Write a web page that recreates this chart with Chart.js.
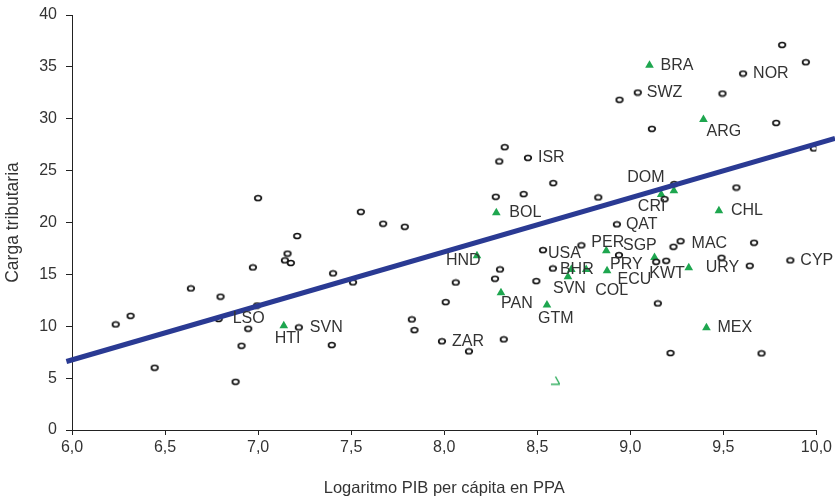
<!DOCTYPE html>
<html>
<head>
<meta charset="utf-8">
<script src="https://cdn.jsdelivr.net/npm/chart.js@4/dist/chart.umd.min.js"></script>
<style>
  html, body { margin: 0; padding: 0; background: #fff; }
  #wrap { width: 835px; height: 499px; position: relative; }
</style>
</head>
<body>
<div id="wrap"><canvas id="taxChart"></canvas></div>
<script>
// Tax burden vs log GDP per capita (PPP). Circles = rest of world,
// green triangles = Latin America, thick blue line = fitted trend.

const otherX = [6.235, 6.315, 6.444, 6.639, 6.788, 6.798, 6.879, 6.911, 6.947, 6.972, 6.995, 7.0,
  7.144, 7.158, 7.176, 7.21, 7.219, 7.396, 7.403, 7.51, 7.552, 7.672, 7.788, 7.826, 7.84, 7.988,
  8.008, 8.062, 8.133, 8.273, 8.277, 8.296, 8.30, 8.32, 8.325, 8.427, 8.45, 8.495, 8.531, 8.584,
  8.586, 8.737, 8.828, 8.928, 8.939, 8.942, 9.04, 9.116, 9.139, 9.148, 9.184, 9.193, 9.216, 9.232,
  9.236, 9.27, 9.49, 9.495, 9.57, 9.606, 9.642, 9.665, 9.705, 9.784, 9.816, 9.86, 9.943, 9.986];
const otherY = [10.18, 11.0, 6.0, 13.65, 10.7, 12.85, 4.65, 8.12, 9.76, 15.67, 12.0, 22.35,
  16.35, 17.0, 16.1, 18.7, 9.89, 8.19, 15.1, 14.23, 21.03, 19.88, 19.59, 10.66, 9.63, 8.55,
  12.33, 14.22, 7.58, 14.58, 22.48, 25.89, 15.48, 8.74, 27.26, 22.74, 26.23, 14.35, 17.34, 15.57,
  23.8, 17.8, 22.42, 19.82, 16.86, 31.83, 32.53, 29.03, 16.21, 12.2, 22.25, 16.31, 7.42, 17.66,
  23.7, 18.2, 16.6, 32.43, 23.37, 34.36, 15.83, 18.05, 7.39, 29.6, 37.12, 16.35, 35.45, 27.14];
// index -> country code, only the labelled ones
const otherCodes = { 4: 'LSO', 16: 'SVN', 25: 'ZAR', 36: 'ISR', 38: 'USA', 39: 'BHR', 43: 'QAT',
  44: 'SGP', 46: 'SWZ', 51: 'KWT', 55: 'MAC', 59: 'NOR', 65: 'CYP' };

const latamCodes = ['HTI', 'HND', 'BOL', 'PAN', 'GTM', 'SVN', '', 'COL', 'PER', 'PRY', 'ECU',
  'BRA', 'DOM', 'CRI', 'URY', 'ARG', 'MEX', 'CHL'];
const latamX = [7.138, 8.176, 8.28, 8.305, 8.552, 8.665, 8.683, 8.763, 8.871, 8.875, 9.13,
  9.103, 9.166, 9.234, 9.314, 9.393, 9.409, 9.476];
const latamY = [10.05, 16.79, 20.94, 13.23, 12.04, 14.77, 15.48, 15.48, 17.27, 15.35, 16.63,
  35.16, 22.7, 23.05, 15.64, 29.93, 9.86, 21.13];

// stray half-drawn green marker near the bottom
const strayX = [8.6];
const strayY = [4.77];

// trend line end points
const fitX = [5.97, 10.1];
const fitY = [6.6, 28.1];

const X_TITLE = 'Logaritmo PIB per cápita en PPA';
const Y_TITLE = 'Carga tributaria';

// label placement, px offset of the text's left edge from its marker
const otherLabelPos = {
  LSO: [14, 0], SVN: [11, 0], ZAR: [10, 0], ISR: [10, 0], USA: [5, 3.5], BHR: [7, 1],
  QAT: [9, 0], SGP: [4, -9], SWZ: [9, 0], KWT: [-17, 13], MAC: [11, 2], NOR: [10, 0], CYP: [10, 0],
};
const latamLabelPos = {
  HTI: [-9, 13], HND: [-31, 5], BOL: [13, 0], PAN: [0, 11], GTM: [-9, 14], SVN: [-15, 12],
  COL: [9, 21], PER: [-15, -8], PRY: [3, -6], ECU: [-37, 22], BRA: [11, 0], DOM: [-34, -17],
  CRI: [-36, 15.5], URY: [17, 0], ARG: [3, 12], MEX: [11, 0], CHL: [12, 0],
};

const FONT = "'Liberation Sans', Arial, sans-serif";
const TEXT = '#333';
const GREEN = '#1ea64f';

function zip(xs, ys) {
  return xs.map((x, i) => ({ x, y: ys[i] }));
}

// small open ellipse marker (the reference's circles are a bit flattened)
function makeRing() {
  const c = document.createElement('canvas');
  c.width = 10; c.height = 8;
  const g = c.getContext('2d');
  g.beginPath();
  g.ellipse(5, 4, 3.3, 2.5, 0, 0, Math.PI * 2);
  g.fillStyle = '#fff';
  g.fill();
  g.lineWidth = 1.7;
  g.strokeStyle = '#111';
  g.stroke();
  return c;
}

function makeStray() {
  const c = document.createElement('canvas');
  c.width = 12; c.height = 10;
  const g = c.getContext('2d');
  g.strokeStyle = GREEN;
  g.lineWidth = 1.3;
  g.beginPath();
  g.moveTo(5.5, 1); g.lineTo(9.5, 8.3);
  g.moveTo(1, 8.6); g.lineTo(10, 8.6);
  g.stroke();
  return c;
}

const countryLabels = {
  id: 'countryLabels',
  afterDatasetsDraw(chart) {
    const ctx = chart.ctx;
    ctx.save();
    ctx.font = '16px ' + FONT;
    ctx.fillStyle = TEXT;
    ctx.textAlign = 'left';
    ctx.textBaseline = 'middle';
    const others = chart.getDatasetMeta(1).data;
    Object.keys(otherCodes).forEach(i => {
      const code = otherCodes[i];
      const p = others[i];
      const off = otherLabelPos[code] || [10, 0];
      ctx.fillText(code, p.x + off[0], p.y + off[1]);
    });
    const latam = chart.getDatasetMeta(2).data;
    latamCodes.forEach((code, i) => {
      if (!code) return;
      const p = latam[i];
      const off = latamLabelPos[code] || [10, 0];
      ctx.fillText(code, p.x + off[0], p.y + off[1]);
    });
    ctx.restore();
  },
};

const ctx = document.getElementById('taxChart').getContext('2d');
new Chart(ctx, {
  type: 'scatter',
  data: {
    datasets: [
      {
        type: 'line',
        label: 'Tendencia',
        data: zip(fitX, fitY),
        borderColor: '#2a3a93',
        borderWidth: 5,
        pointRadius: 0,
        fill: false,
        clip: false,
      },
      {
        label: 'Resto del mundo',
        data: zip(otherX, otherY),
        pointStyle: makeRing(),
        pointRadius: 4,
      },
      {
        label: 'América Latina',
        data: zip(latamX, latamY),
        pointStyle: 'triangle',
        pointRadius: 5,
        backgroundColor: GREEN,
        borderColor: GREEN,
        borderWidth: 0,
      },
      {
        label: 'extra',
        data: zip(strayX, strayY),
        pointStyle: makeStray(),
        pointRadius: 5,
      },
    ],
  },
  options: {
    responsive: true,
    maintainAspectRatio: false,
    animation: false,
    events: [],
    layout: { padding: { top: 15, right: 17.5, left: 0, bottom: 0 } },
    plugins: { legend: { display: false }, tooltip: { enabled: false } },
    scales: {
      x: {
        type: 'linear',
        min: 6, max: 10,
        ticks: {
          stepSize: 0.5,
          color: TEXT,
          font: { family: FONT, size: 16 },
          padding: 3,
          callback: v => v.toFixed(1).replace('.', ','),
        },
        grid: { drawOnChartArea: false, tickLength: 5, tickColor: '#222', tickWidth: 1 },
        border: { color: '#222', width: 1 },
        title: { display: true, text: X_TITLE, color: TEXT, font: { family: FONT, size: 16.5 }, padding: { top: 4, bottom: 1 } },
        afterFit(scale) { scale.height = 69; },
      },
      y: {
        min: 0, max: 40,
        ticks: {
          stepSize: 5,
          color: TEXT,
          font: { family: FONT, size: 16 },
          padding: 9,
        },
        grid: { drawOnChartArea: false, tickLength: 6, tickColor: '#222', tickWidth: 1 },
        border: { color: '#222', width: 1 },
        title: { display: true, text: Y_TITLE, color: TEXT, font: { family: FONT, size: 17.5 }, padding: { top: 3, bottom: 4 } },
        afterFit(scale) {
          // the big tick padding would otherwise push the plot top down
          scale.width = 72;
          scale.paddingTop = 0;
          scale.paddingBottom = 0;
        },
      },
    },
  },
  plugins: [countryLabels],
});
</script>
</body>
</html>
